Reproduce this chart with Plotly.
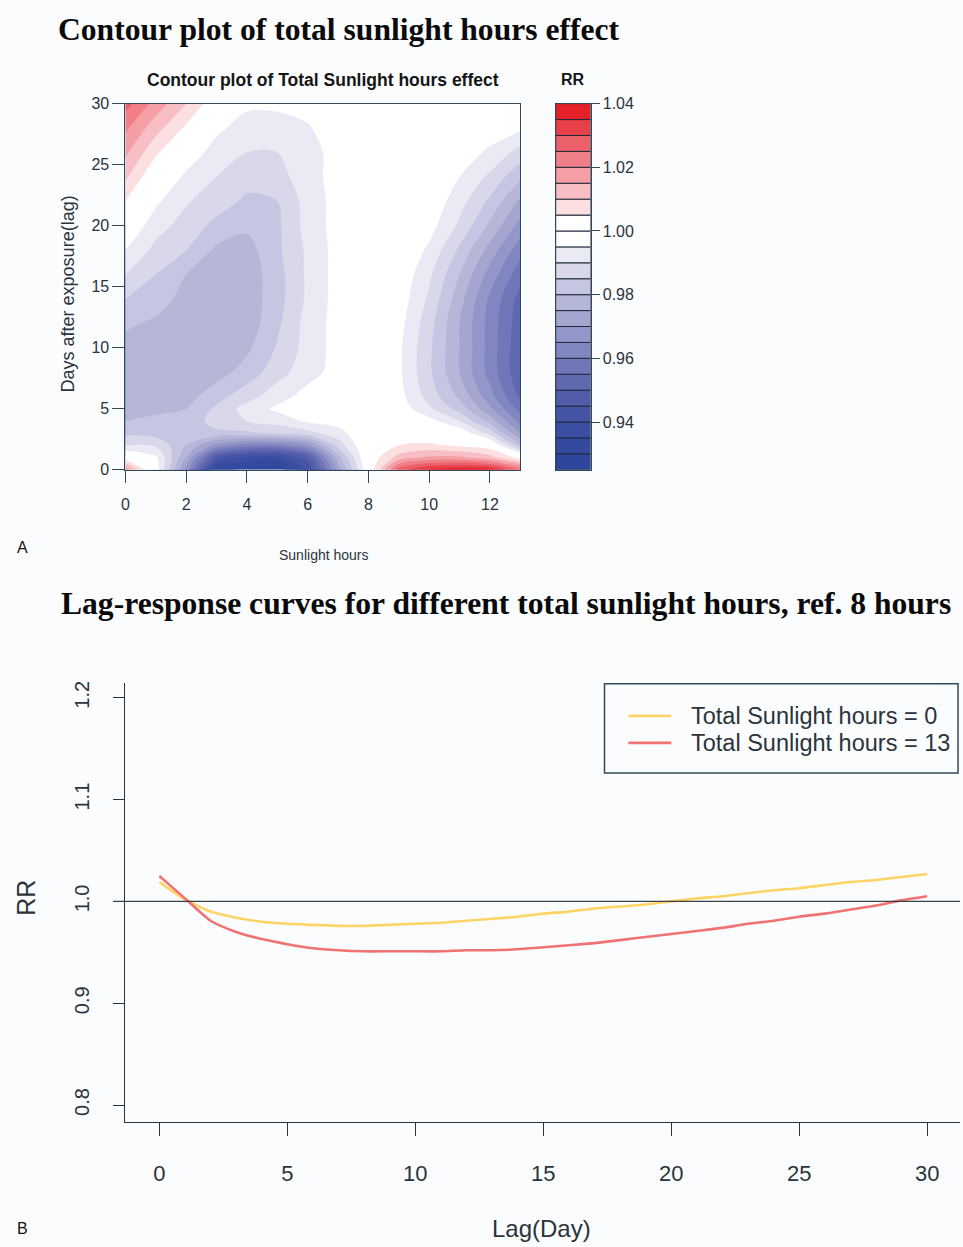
import plotly.graph_objects as go

# ---------------- data ----------------
SUN_HOURS = list(range(14))                      # 0 .. 13 hours
LAGS = [0, 1, 2, 3, 4, 5, 6, 8, 10, 12, 14, 16, 18, 20, 22, 24, 26, 28, 30]

# Lag-response curves (lag 0..30) for the two extreme sunlight levels, ref. 8 hours
LAG_DAYS = list(range(31))
RR_SUN_0 = [1.019, 1.002, 0.990, 0.984, 0.980, 0.978, 0.977, 0.976, 0.976, 0.977,
            0.978, 0.979, 0.981, 0.983, 0.985, 0.988, 0.990, 0.993, 0.995, 0.997,
            1.000, 1.003, 1.005, 1.008, 1.011, 1.013, 1.016, 1.019, 1.021, 1.024,
            1.027]
RR_SUN_13 = [1.025, 1.003, 0.981, 0.970, 0.963, 0.958, 0.954, 0.952, 0.951, 0.951,
             0.951, 0.951, 0.952, 0.952, 0.953, 0.955, 0.957, 0.959, 0.962, 0.965,
             0.968, 0.971, 0.974, 0.978, 0.981, 0.985, 0.988, 0.992, 0.996, 1.001,
             1.005]
SERIES_NAMES = ["Total Sunlight hours = 0", "Total Sunlight hours = 13"]

# RR surface for sunlight hours 1..12 (columns) by lag (rows, see LAGS);
# the 0 h and 13 h columns come from the lag-response curves above.
RR_INNER = [
    #  1      2      3      4      5      6      7      8      9      10     11     12
    [0.998, 0.968, 0.931, 0.929, 0.927, 0.940, 0.972, 1.000, 1.028, 1.036, 1.038, 1.037],  # 0
    [0.996, 0.975, 0.946, 0.938, 0.937, 0.948, 0.978, 1.001, 1.012, 1.016, 1.016, 1.012],  # 1
    [0.989, 0.980, 0.968, 0.962, 0.962, 0.968, 0.987, 1.001, 1.005, 1.006, 1.004, 1.002],  # 2
    [0.983, 0.984, 0.984, 0.984, 0.986, 0.988, 0.993, 1.000, 1.002, 1.000, 0.999, 0.988],  # 3
    [0.981, 0.982, 0.987, 0.990, 0.992, 0.996, 0.997, 0.999, 1.000, 0.997, 0.990, 0.978],  # 4
    [0.979, 0.980, 0.986, 0.992, 0.996, 0.998, 0.998, 0.999, 0.998, 0.991, 0.983, 0.971],  # 5
    [0.978, 0.978, 0.983, 0.988, 0.993, 0.997, 0.998, 0.999, 0.997, 0.988, 0.979, 0.967],  # 6
    [0.977, 0.977, 0.978, 0.982, 0.988, 0.993, 0.997, 0.998, 0.996, 0.986, 0.975, 0.963],  # 8
    [0.977, 0.976, 0.977, 0.979, 0.9855, 0.992, 0.997, 0.998, 0.996, 0.986, 0.975, 0.963],  # 10
    [0.979, 0.977, 0.976, 0.977, 0.984, 0.992, 0.997, 0.998, 0.997, 0.987, 0.975, 0.963],  # 12
    [0.9825, 0.978, 0.976, 0.977, 0.983, 0.991, 0.997, 0.998, 0.998, 0.989, 0.977, 0.964],  # 14
    [0.985, 0.980, 0.977, 0.977, 0.983, 0.991, 0.997, 0.998, 0.999, 0.991, 0.980, 0.968],  # 16
    [0.9885, 0.985, 0.979, 0.978, 0.984, 0.991, 0.997, 0.999, 1.000, 0.994, 0.984, 0.973],  # 18
    [0.992, 0.988, 0.9835, 0.981, 0.984, 0.992, 0.997, 0.999, 1.000, 0.997, 0.989, 0.979],  # 20
    [0.996, 0.9905, 0.9875, 0.984, 0.985, 0.992, 0.997, 0.999, 1.000, 0.999, 0.992, 0.984],  # 22
    [1.000, 0.994, 0.990, 0.987, 0.988, 0.993, 0.997, 1.000, 1.000, 1.000, 0.995, 0.989],  # 24
    [1.006, 0.998, 0.993, 0.990, 0.990, 0.993, 0.997, 1.000, 1.000, 1.000, 0.998, 0.994],  # 26
    [1.012, 1.004, 0.996, 0.993, 0.993, 0.9945, 0.998, 1.000, 1.000, 1.000, 0.999, 0.998],  # 28
    [1.018, 1.010, 1.001, 0.996, 0.996, 0.997, 0.999, 1.000, 1.000, 1.000, 1.000, 1.001],  # 30
]

# contour levels of the key: 0.925 .. 1.040 by 0.005
LEVEL_START, LEVEL_END, LEVEL_STEP = 0.925, 1.040, 0.005
KEY_TICKS = [0.94, 0.96, 0.98, 1.00, 1.02, 1.04]

# ---------------- styling ----------------
W, H = 963, 1247
SERIF = "Liberation Serif, Times New Roman, serif"
SANS = "Liberation Sans, Arial, sans-serif"
INK = "#2b333b"
FRAME = "#33495a"
BG = "#fbfcfe"
YELLOW = "#ffd466"
RED = "#f07272"

# one colour per band, darkest blue (lowest band) to red (highest band)
BAND_COLORS = [
    "rgb(46,70,156)", "rgb(52,74,158)", "rgb(60,78,162)", "rgb(70,84,166)",
    "rgb(82,92,170)", "rgb(96,104,176)", "rgb(112,118,184)", "rgb(128,134,192)",
    "rgb(146,150,200)", "rgb(164,166,208)", "rgb(182,182,216)", "rgb(198,198,226)",
    "rgb(216,216,234)", "rgb(234,234,244)", "rgb(255,255,255)",
    "rgb(255,255,255)", "rgb(251,223,225)", "rgb(247,191,195)", "rgb(243,159,165)",
    "rgb(240,127,135)", "rgb(236,96,105)", "rgb(232,64,75)", "rgb(228,32,40)",
]

# the hosting page adds a small vertical offset/scale; positions below are
# given in screen pixels and converted to paper fractions here
PAGE_DY, PAGE_SY = 8.4, 0.986


def px(x):
    return x / W


def py(y):
    return 1 - ((y - PAGE_DY) / PAGE_SY) / H


# assemble the full surface: rows = lags, columns = sunlight hours 0..13
rr_grid = []
for i, lag in enumerate(LAGS):
    rr_grid.append([RR_SUN_0[lag]] + RR_INNER[i] + [RR_SUN_13[lag]])

n_levels = int(round((LEVEL_END - LEVEL_START) / LEVEL_STEP))
band_base = [round(LEVEL_START + k * LEVEL_STEP, 4) for k in range(n_levels)]
band_height = [LEVEL_STEP] * n_levels

# colorscale sampled at band centres (plotly fill colours use level + step/2)
ncs = len(BAND_COLORS)
colorscale = [[k / (ncs - 1), c] for k, c in enumerate(BAND_COLORS)]

fig = go.Figure()

fig.add_trace(go.Contour(
    x=SUN_HOURS, y=LAGS, z=rr_grid,
    xaxis="x", yaxis="y",
    colorscale=colorscale, showscale=False,
    contours=dict(start=LEVEL_START + LEVEL_STEP, end=LEVEL_END - LEVEL_STEP,
                  size=LEVEL_STEP, coloring="fill"),
    line=dict(width=0, smoothing=1.0),
    hoverinfo="skip",
))

# colour key
fig.add_trace(go.Bar(
    x=[0] * n_levels, y=band_height, base=band_base, width=1,
    xaxis="x3", yaxis="y3",
    marker=dict(color=BAND_COLORS, line=dict(color="#1d2a3a", width=1)),
    showlegend=False, hoverinfo="skip",
))

# lag-response curves
for name, vals, col in [(SERIES_NAMES[0], RR_SUN_0, YELLOW), (SERIES_NAMES[1], RR_SUN_13, RED)]:
    fig.add_trace(go.Scatter(
        x=LAG_DAYS, y=vals, mode="lines", name=name,
        line=dict(color=col, width=2.6, shape="spline", smoothing=0.6),
        xaxis="x2", yaxis="y2", showlegend=False,
    ))

top_dom_y = [py(470), py(104)]
small_tick = dict(family=SANS, size=16, color=INK)

fig.update_layout(
    width=W, height=H,
    margin=dict(l=0, r=0, t=0, b=0),
    paper_bgcolor=BG, plot_bgcolor=BG,
    showlegend=False,
    xaxis=dict(domain=[px(122), px(518.5)], range=[0, 13], tickvals=[0, 2, 4, 6, 8, 10, 12],
               ticks="outside", ticklen=12, tickcolor=FRAME, showline=True, mirror=True,
               linecolor=FRAME, linewidth=1.2, showgrid=False, zeroline=False,
               ticklabelstandoff=8, tickfont=small_tick, anchor="y"),
    yaxis=dict(domain=top_dom_y, range=[0, 30], tickvals=[0, 5, 10, 15, 20, 25, 30],
               ticks="outside", ticklen=12, tickcolor=FRAME, showline=True, mirror=True,
               linecolor=FRAME, linewidth=1.2, showgrid=False, zeroline=False,
               tickfont=small_tick, anchor="x"),
    xaxis3=dict(domain=[px(554), px(589)], range=[-0.5, 0.5], showticklabels=False,
                ticks="", showline=True, mirror=True, linecolor=FRAME, linewidth=1,
                showgrid=False, zeroline=False, anchor="y3"),
    yaxis3=dict(domain=top_dom_y, range=[LEVEL_START, LEVEL_END], side="right",
                tickvals=KEY_TICKS, ticktext=[f"{v:.2f}" for v in KEY_TICKS],
                ticks="outside", ticklen=8, tickcolor=FRAME, showline=True, mirror=True,
                linecolor=FRAME, linewidth=1, showgrid=False, zeroline=False,
                tickfont=small_tick, anchor="x3"),
    xaxis2=dict(domain=[px(122), px(960)], range=[-34 / 25.7, (960 - 156) / 25.7],
                tickvals=[0, 5, 10, 15, 20, 25, 30], ticks="outside", ticklen=13,
                tickcolor=INK, showline=True, linecolor=INK, linewidth=1.3,
                showgrid=False, zeroline=False, ticklabelstandoff=18,
                tickfont=dict(family=SANS, size=22, color=INK), anchor="y2"),
    yaxis2=dict(domain=[py(1122), py(683)], range=[0.7833, 1.2147],
                tickvals=[0.8, 0.9, 1.0, 1.1, 1.2], tickformat=".1f", tickangle=-90,
                ticks="outside", ticklen=11, tickcolor=INK, showline=True, linecolor=INK,
                linewidth=1.3, showgrid=False, zeroline=False, ticklabelstandoff=16,
                tickfont=dict(family=SANS, size=20, color=INK), anchor="x2"),
)

shapes = [
    # reference line RR = 1
    dict(type="line", xref="paper", yref="y2", x0=px(110), x1=px(960), y0=1, y1=1,
         line=dict(color="#3a4148", width=1.4)),
    # legend frame and keys
    dict(type="rect", xref="paper", yref="paper", x0=px(603), x1=px(958), y0=py(773), y1=py(684),
         line=dict(color=FRAME, width=1.5)),
    dict(type="line", xref="paper", yref="paper", x0=px(627), x1=px(670), y0=py(716), y1=py(716),
         line=dict(color=YELLOW, width=2.6)),
    dict(type="line", xref="paper", yref="paper", x0=px(627), x1=px(670), y0=py(743), y1=py(743),
         line=dict(color=RED, width=2.6)),
]
fig.update_layout(shapes=shapes)


def note(text, x, y, size, family, color="#111111", xanchor="center", angle=0):
    fig.add_annotation(text=text, x=px(x), y=py(y), xref="paper", yref="paper",
                       xanchor=xanchor, yanchor="middle", showarrow=False, textangle=angle,
                       font=dict(family=family, size=size, color=color))


note("<b>Contour plot of total sunlight hours effect</b>", 52, 30, 31.6, SERIF, "#0a0a0a", "left")
note("<b>Contour plot of Total Sunlight hours effect</b>", 320, 80, 17.5, SANS, "#151515")
note("<b>RR</b>", 571, 80, 16, SANS, "#151515")
note("Sunlight hours", 321, 555, 14, SANS, INK)
note("Days after exposure(lag)", 64, 294, 18, SANS, INK, angle=-90)
note("A", 19, 548, 16, SANS, "#111111")
note("<b>Lag-response curves for different total sunlight hours, ref. 8 hours</b>", 55, 604, 31.6,
     SERIF, "#0a0a0a", "left")
note("RR", 22, 898, 25, SANS, INK, angle=-90)
note("Lag(Day)", 540, 1228, 24, SANS, INK)
note("B", 19, 1228, 16, SANS, "#111111")
note(SERIES_NAMES[0], 688, 716, 23.5, SANS, INK, "left")
note(SERIES_NAMES[1], 688, 743, 23.5, SANS, INK, "left")

fig.write_html("out.html")
